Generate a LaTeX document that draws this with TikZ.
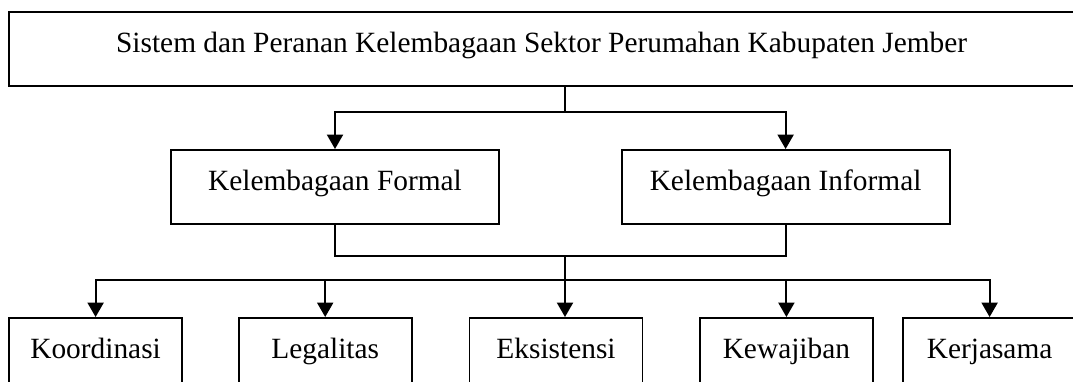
\documentclass[tikz,border=0pt]{standalone}
\usepackage{fontspec}
\setmainfont{Liberation Serif}
\usetikzlibrary{arrows.meta}

\begin{document}
\begin{tikzpicture}[line width=1.4pt,
  box/.style={draw, inner sep=0pt, minimum height=1.85cm, text height=.55cm, text depth=.4cm,
    font=\fontsize{20.9}{24}\selectfont},
  arr/.style={-{Triangle[width=.4cm,length=.36cm]}}]
\useasboundingbox (0,0) rectangle (26.825,-9.525);
\clip (0,0) rectangle (26.825,-9.525);
% top
\node[box, minimum width=26.625cm] (sistem) at (13.54,-1.225) {Sistem dan Peranan Kelembagaan Sektor Perumahan Kabupaten Jember};
% second level
\node[box, minimum width=8.2cm] (formal) at (8.375,-4.675) {Kelembagaan Formal};
\node[box, minimum width=8.2cm] (informal) at (19.64,-4.675) {Kelembagaan Informal};
% third level
\node[box, minimum width=4.325cm] (koordinasi) at (2.39,-8.875) {Koordinasi};
\node[box, minimum width=4.325cm] (legalitas) at (8.13,-8.875) {Legalitas};
\node[box, minimum width=4.325cm] (eksistensi) at (13.9,-8.875) {Eksistensi};
\node[box, minimum width=4.325cm] (kewajiban) at (19.66,-8.875) {Kewajiban};
\node[box, minimum width=4.325cm] (kerjasama) at (24.74,-8.875) {Kerjasama};
\coordinate (split1) at (14.125,-2.8);
\coordinate (join) at (14.125,-6.4);
\coordinate (split2) at (14.125,-6.99);
\draw (sistem.south -| split1) -- (split1);
\draw [arr] (split1) -| (formal.north);
\draw [arr] (split1) -| (informal.north);
\draw (formal.south) |- (join);
\draw (informal.south) |- (join);
\draw (join) -- (split2);
\draw [arr] (split2) -| (koordinasi.north);
\draw [arr] (split2) -| (legalitas.north);
\draw [arr] (split2) -- (eksistensi.north -| split2);
\draw [arr] (split2) -| (kewajiban.north);
\draw [arr] (split2) -| (kerjasama.north);
\end{tikzpicture}
\end{document}
